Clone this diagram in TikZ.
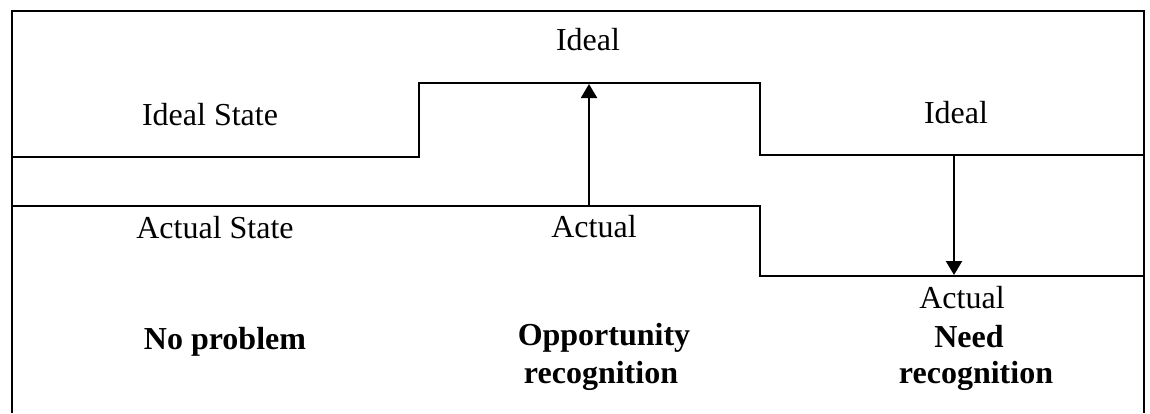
\documentclass[tikz,border=0pt]{standalone}
\usepackage{fontspec}
\setmainfont{Liberation Serif}
\usetikzlibrary{arrows.meta}
\begin{document}
\begin{tikzpicture}[x=0.5pt,y=-0.5pt,
  line/.style={line width=1.1pt,line join=miter},
  gap/.style={line width=1.1pt,-{Triangle[width=8pt,length=7pt]}},
  lbl/.style={font=\fontsize{16}{18.5}\selectfont,anchor=base,inner sep=0pt},
  bold/.style={lbl,font=\fontsize{16}{18.5}\selectfont\bfseries}]
\useasboundingbox (0,0) rectangle (1150,413);
% frame, open at the bottom
\draw[line] (12,413) -- (12,11) -- (1144,11) -- (1144,413);
% ideal level
\draw[line] (12,157) -- (419,157) -- (419,83) -- (760,83) -- (760,155) -- (1144,155);
% actual level
\draw[line] (12,206) -- (760,206) -- (760,276) -- (1144,276);
% gap arrows
\coordinate (oppA) at (589,206);
\coordinate (oppI) at (589,84);
\coordinate (needI) at (954,155);
\coordinate (needA) at (954,275);
\draw[gap] (oppA) -- (oppI);
\draw[gap] (needI) -- (needA);
% labels
\node[lbl] (idealstate) at (210,125) {Ideal State};
\node[lbl] (idealtop) at (588,50) {Ideal};
\node[lbl] (idealright) at (956,123) {Ideal};
\node[lbl] (actualstate) at (215,238) {Actual State};
\node[lbl] (actualmid) at (594,237) {Actual};
\node[lbl] (actualright) at (962,308) {Actual};
\node[bold] (noprob) at (225,349) {No problem};
\node[bold] (opp1) at (604,345) {Opportunity};
\node[bold] (opp2) at (601,383) {recognition};
\node[bold] (need1) at (969,347) {Need};
\node[bold] (need2) at (976,383) {recognition};
\end{tikzpicture}
\end{document}
